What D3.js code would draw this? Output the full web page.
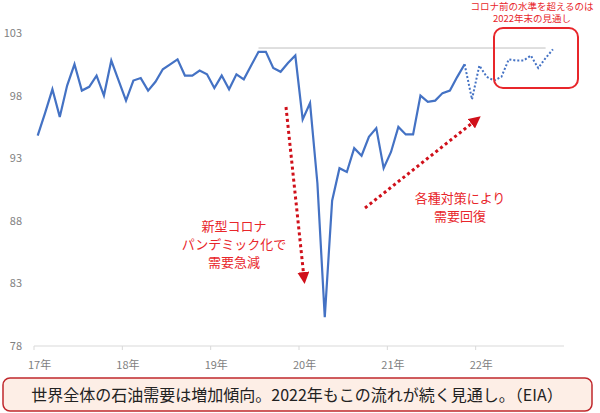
<!DOCTYPE html><html><head><meta charset="utf-8"><script src="https://cdn.jsdelivr.net/npm/d3@7"></script>
<style>body{margin:0;background:#fff}text{font-family:"Noto Sans CJK JP","Noto Sans",sans-serif}</style></head><body><svg width="600" height="413"></svg>
<script>
const actual=[94.8,96.6,98.5,96.3,98.8,100.5,98.4,98.7,99.6,98.0,100.8,99.2,97.6,99.2,99.4,98.4,99.1,100.1,100.5,100.9,99.6,99.6,100.0,99.7,98.6,99.6,98.5,99.7,99.3,100.4,101.5,101.5,100.2,99.9,100.6,101.2,96.1,97.4,91.0,80.3,89.6,92.2,91.9,93.8,93.2,94.7,95.4,92.2,93.5,95.5,94.9,94.9,98.0,97.5,97.6,98.2,98.4,99.5,100.5];
const forecast=[97.7,100.4,99.5,99.2,99.5,100.9,100.8,100.8,101.2,100.2,101.0,101.7];
const yearLabels=["17年","18年","19年","20年","21年","22年"];
const yTicks=[78,83,88,93,98,103];
const preCovidLevel=101.8;
const svg=d3.select("svg");
const x=d3.scaleLinear().domain([0,72]).range([34,564]);
const y=d3.scaleLinear().domain([78,103]).range([346,33]);
const red="#e8262b";
svg.append("line").attr("x1",34).attr("x2",564).attr("y1",y(78)).attr("y2",y(78)).attr("stroke","#d9d9d9");
yearLabels.forEach((l,i)=>{svg.append("line").attr("x1",x(i*12)).attr("x2",x(i*12)).attr("y1",346).attr("y2",350).attr("stroke","#d9d9d9");
svg.append("text").attr("x",x(i*12)-6).attr("y",369).attr("font-size",11).attr("fill","#7f7f7f").attr("text-anchor","start").text(l);});
yTicks.forEach(v=>svg.append("text").attr("x",22).attr("y",y(v)+4).attr("text-anchor","end").attr("font-size",11).attr("fill","#7f7f7f").text(v));
const xm=i=>x(i+0.5);
svg.append("line").attr("x1",xm(30)).attr("x2",xm(69)).attr("y1",y(preCovidLevel)).attr("y2",y(preCovidLevel)).attr("stroke","#bfbfbf");
const line=d3.line().x(d=>xm(d[0])).y(d=>y(d[1]));
svg.append("path").attr("d",line(actual.map((v,i)=>[i,v]))).attr("fill","none").attr("stroke","#4472c4").attr("stroke-width",2.2);
const fc=[[actual.length-1,actual[actual.length-1]]].concat(forecast.map((v,i)=>[actual.length+i,v]));
svg.append("path").attr("d",line(fc)).attr("fill","none").attr("stroke","#4472c4").attr("stroke-width",2).attr("stroke-dasharray","2,2");
svg.append("rect").attr("x",494).attr("y",28).attr("width",84).attr("height",60).attr("rx",9).attr("fill","none").attr("stroke",red).attr("stroke-width",2);
[["コロナ前の水準を超えるのは",10],["2022年末の見通し",22]].forEach(([t,yy])=>svg.append("text").attr("x",532).attr("y",yy).attr("text-anchor","middle").attr("font-size",9.5).attr("fill",red).text(t));
const defs=svg.append("defs");
defs.append("marker").attr("id","ah").attr("viewBox","0 0 10 10").attr("refX",5).attr("refY",5).attr("markerWidth",4).attr("markerHeight",4).attr("orient","auto").append("path").attr("d","M0,0L10,5L0,10z").attr("fill","#d0101a");
svg.append("line").attr("x1",286).attr("y1",107).attr("x2",304).attr("y2",278).attr("stroke","#d0101a").attr("stroke-width",3).attr("stroke-dasharray","3,3").attr("marker-end","url(#ah)");
svg.append("line").attr("x1",365).attr("y1",208).attr("x2",476).attr("y2",120).attr("stroke","#d0101a").attr("stroke-width",3).attr("stroke-dasharray","3,3").attr("marker-end","url(#ah)");
["新型コロナ","パンデミック化で","需要急減"].forEach((t,i)=>svg.append("text").attr("x",234).attr("y",231+i*18).attr("text-anchor","middle").attr("font-size",13).attr("fill",red).text(t));
["各種対策により","需要回復"].forEach((t,i)=>svg.append("text").attr("x",460).attr("y",203+i*18).attr("text-anchor","middle").attr("font-size",13).attr("fill",red).text(t));
svg.append("rect").attr("x",3).attr("y",378).attr("width",589).attr("height",33).attr("rx",7).attr("fill","#fdeee6").attr("stroke","#c0282d").attr("stroke-width",1.5);
svg.append("text").attr("x",297).attr("y",401).attr("text-anchor","middle").attr("font-size",16).attr("fill","#222").text("世界全体の石油需要は増加傾向。2022年もこの流れが続く見通し。（EIA）");
</script></body></html>
